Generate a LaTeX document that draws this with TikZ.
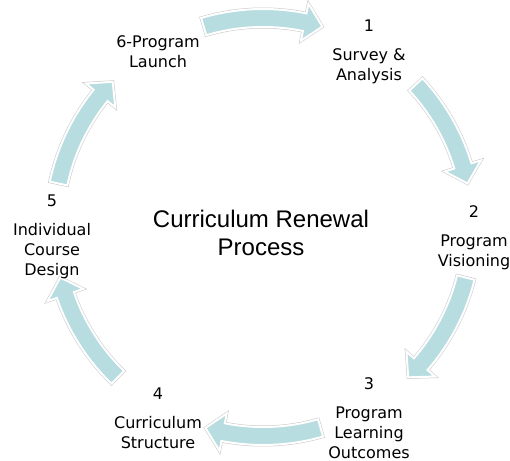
\documentclass[tikz,border=0pt]{standalone}
\usepackage{fontspec}
\setmainfont{DejaVu Sans}
\newfontfamily\titlefont{Liberation Sans}
\definecolor{arrowfill}{RGB}{183,221,225}
\newcommand\cycpath[2]{(#1:218) arc[start angle=#1, end angle=#2+5, radius=218] -- (#2+5:228) -- (#2:209) -- (#2+5:190) -- (#2+5:200) arc[start angle=#2+5, end angle=#1, radius=200] -- cycle}
\newcommand\cycarrow[2]{%
  \path[arrowout] \cycpath{#1}{#2};
  \path[arrowin] \cycpath{#1}{#2};}
\begin{document}
\begin{tikzpicture}[x=1bp,y=1bp,
  lbl/.style={font=\fontsize{16bp}{20bp}\selectfont, align=center, anchor=north, inner sep=0pt},
  ttl/.style={font=\titlefont\fontsize{24bp}{28bp}\selectfont, align=center, anchor=north, inner sep=0pt},
  arrowout/.style={draw=black!22, line width=3bp, line join=miter},
  arrowin/.style={draw=white, line width=2bp, fill=arrowfill, line join=miter}]
\useasboundingbox (0,0) rectangle (510,461);
\fill[white] (0,0) rectangle (510,461);
\begin{scope}[shift={(263,234)}]
  \cycarrow{106.5}{73.5}
  \cycarrow{43}{12}
  \cycarrow{-14}{-46}
  \cycarrow{-74}{-106}
  \cycarrow{-134}{-166}
  \cycarrow{168}{136}
\end{scope}
\node[lbl] (s1) at (369,441) {1\\[9bp]Survey \&\\Analysis};
\node[lbl] (s2) at (474,256) {2\\[9bp]Program\\Visioning};
\node[lbl] (s3) at (369,84) {3\\[9bp]Program\\Learning\\Outcomes};
\node[lbl] (s4) at (158,73) {4\\[9bp]Curriculum\\Structure};
\node[lbl] (s5) at (52,266) {5\\[9bp]Individual\\Course\\Design};
\node[lbl] (s6) at (158,426) {6-Program\\Launch};
\node[ttl] (title) at (261,251) {Curriculum Renewal\\Process};
\end{tikzpicture}
\end{document}
